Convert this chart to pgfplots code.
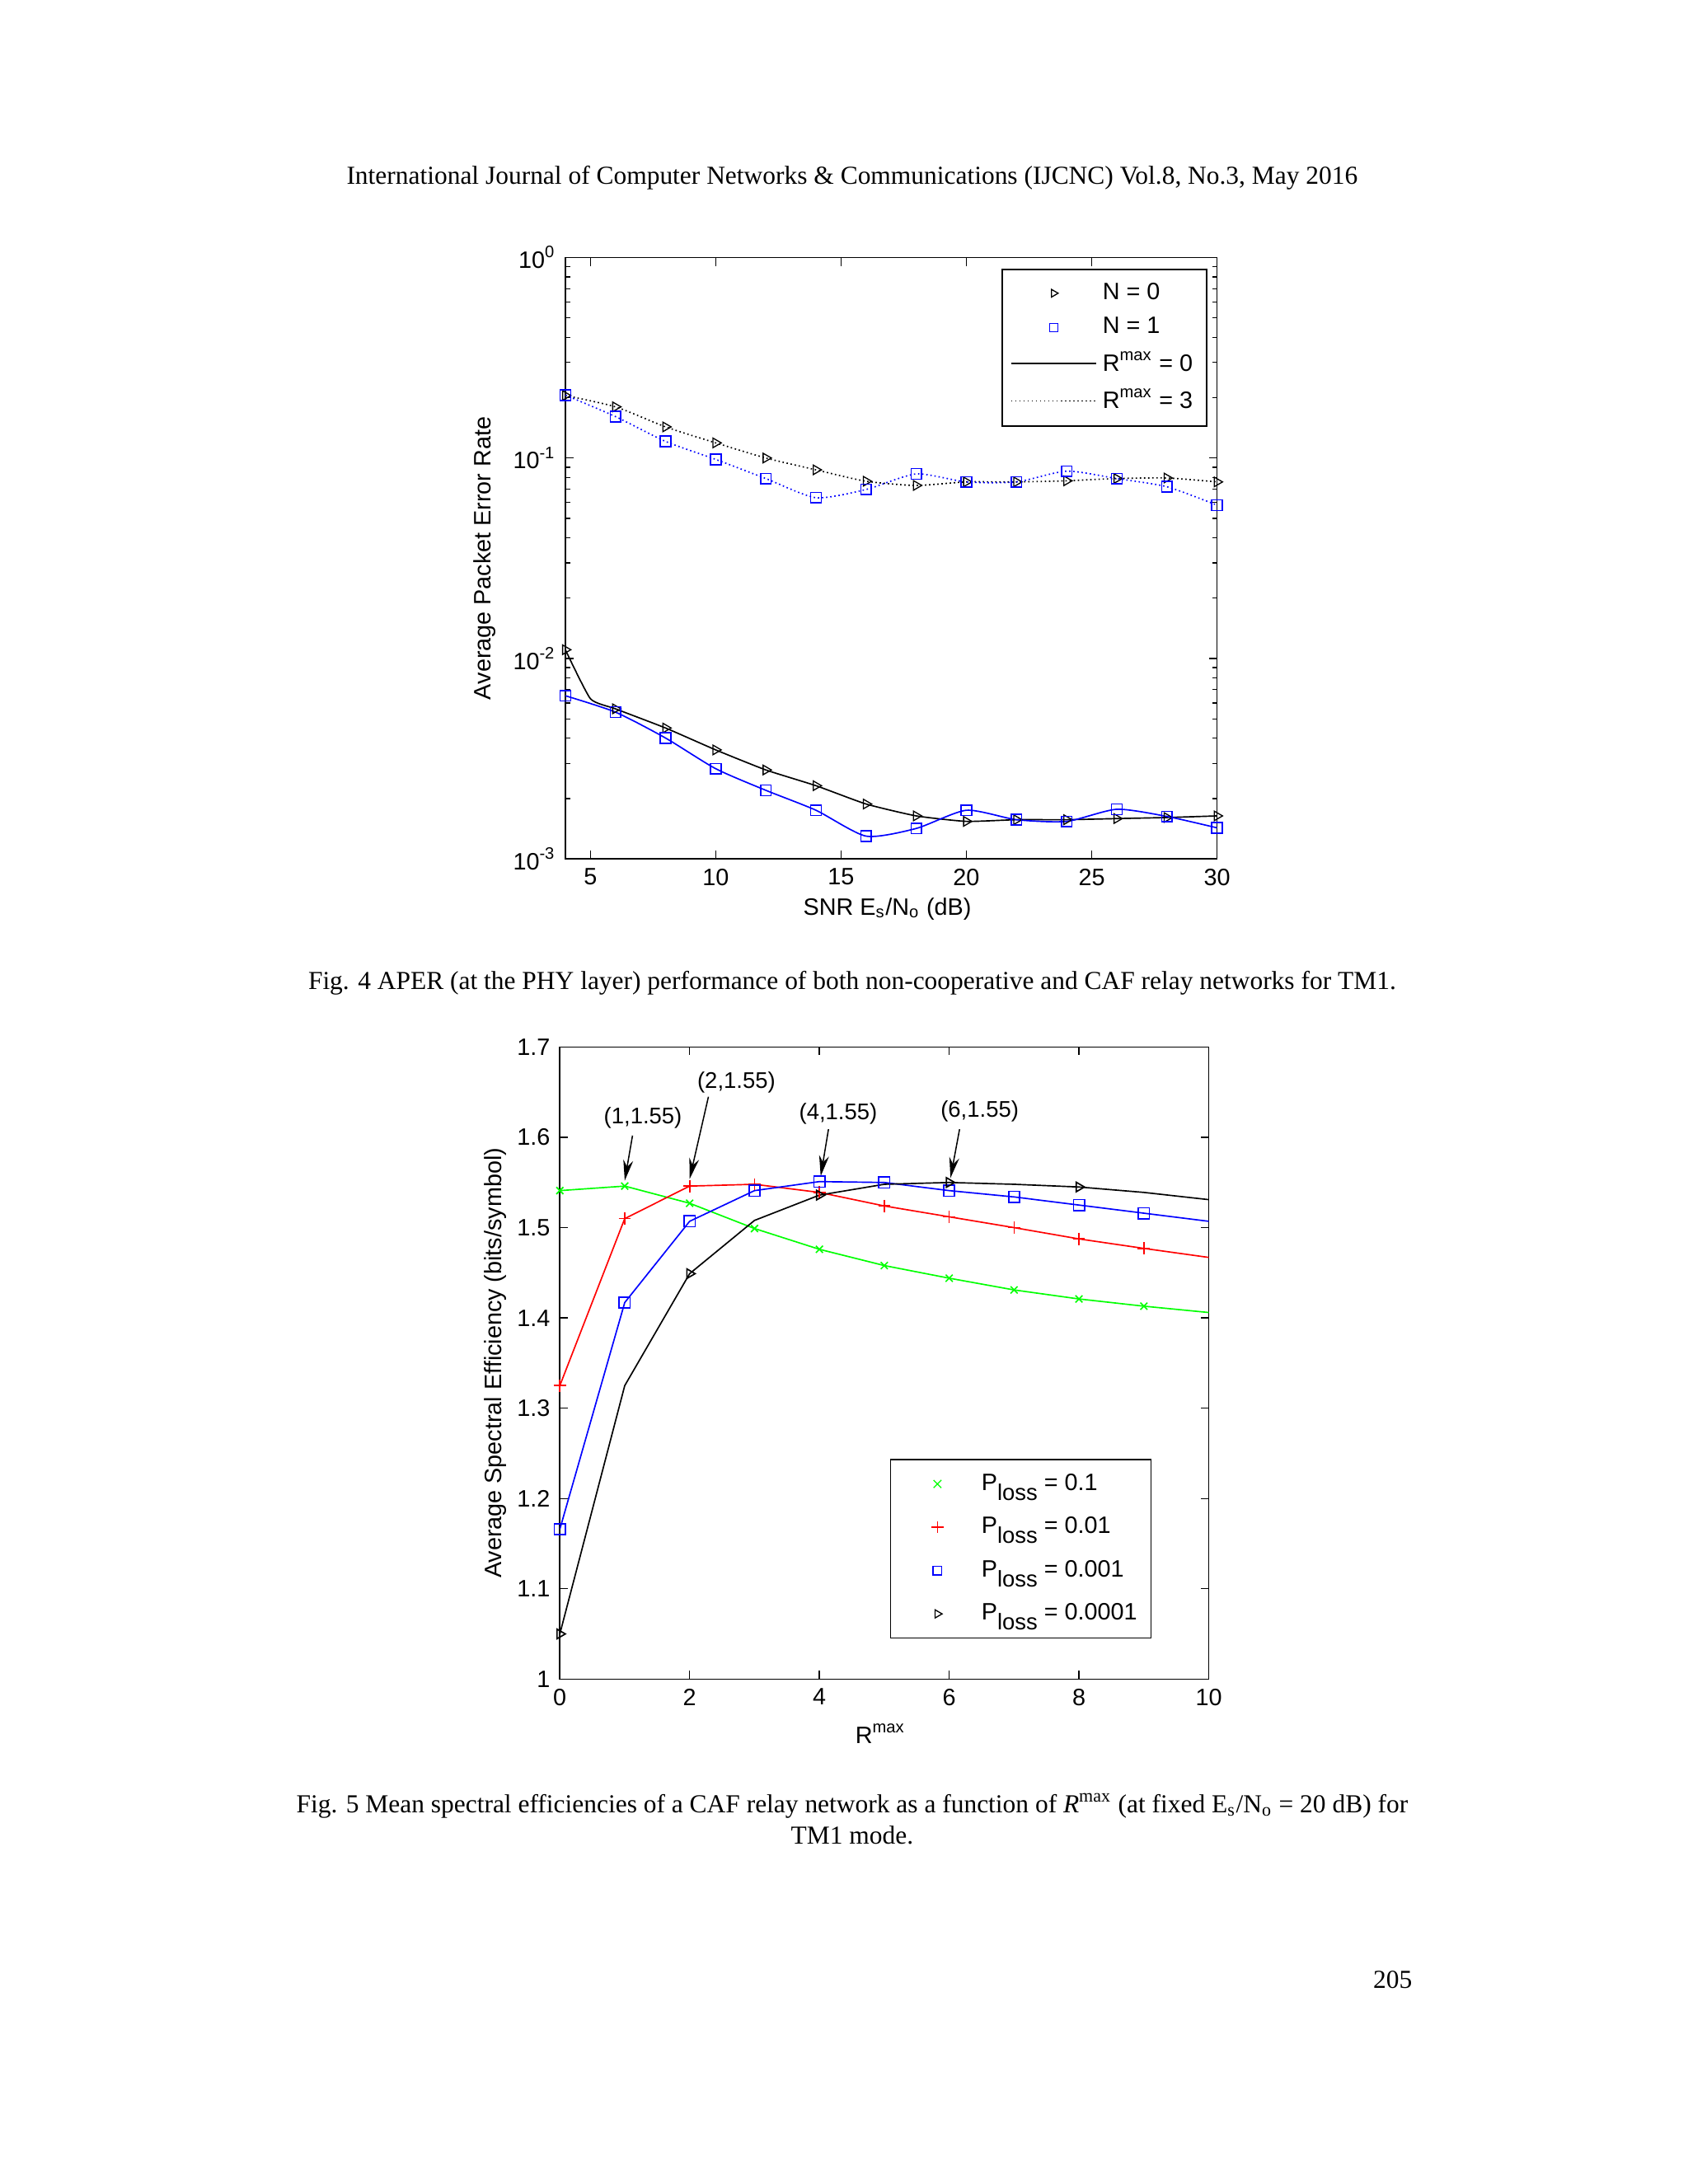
\documentclass[border=0pt]{standalone}
\usepackage{fontspec}
\setmainfont{Liberation Serif}
\newfontfamily\arial{Liberation Sans}
\usepackage{pgfplots}
\pgfplotsset{compat=1.18}
\usetikzlibrary{arrows.meta}

\pgfplotsset{
  matlab/.style={
    scale only axis,
    font=\arial\fontsize{8.6}{10}\selectfont,
    tick align=inside,
    major tick length=3pt,
    minor tick length=1.7pt,
    every tick/.style={black, line width=0.4pt},
    axis line style={line width=0.5pt},
    tick label style={font=\arial\fontsize{8.6}{10}\selectfont},
  },
  mk/.style={legend image code/.code={
      \path[draw=none, fill=none] (0pt,-2pt) rectangle (#1,2pt);
      \draw[##1] plot coordinates {(0.5*#1,0pt)};}},
  ln/.style={legend image code/.code={
      \draw[##1] (0pt,0pt) -- (#1,0pt);}},
}

\begin{document}
\begin{tikzpicture}
\path[use as bounding box, fill=white] (0pt,0pt) rectangle (612pt,792pt);

\node[font=\fontsize{9.4}{11.5}\selectfont] at (309pt,727.4pt)
  {International Journal of Computer Networks \& Communications (IJCNC) Vol.8, No.3, May 2016};

% Fig. 4
\begin{axis}[matlab,
  at={(205pt,480.5pt)}, anchor=south west,
  width=236.3pt, height=218.1pt,
  ymode=log, xmin=4, xmax=30, ymin=1e-3, ymax=1,
  xtick={5,10,15,20,25,30}, xticklabels={5,10,15,20,25,30},
  ytick={1e-3,1e-2,1e-1,1},
  yticklabels={10\textsuperscript{-3},10\textsuperscript{-2},10\textsuperscript{-1},10\textsuperscript{0}},
  minor ytick={2e-3,3e-3,4e-3,5e-3,6e-3,7e-3,8e-3,9e-3,2e-2,3e-2,4e-2,5e-2,6e-2,7e-2,8e-2,9e-2,2e-1,3e-1,4e-1,5e-1,6e-1,7e-1,8e-1,9e-1},
  xlabel={SNR E\textsubscript{s}/N\textsubscript{o} (dB)},
  ylabel={Average Packet Error Rate},
  every axis x label/.style={at={(axis description cs:0.494,-0.083)}, anchor=center},
  every axis y label/.style={at={(axis description cs:-0.124,0.5)}, rotate=90, anchor=center},
  legend style={at={(rel axis cs:0.985,0.981)}, anchor=north east, draw=black,
    line width=0.5pt, font=\arial\fontsize{8.6}{10}\selectfont,
    row sep=1pt, inner xsep=3pt, inner ysep=2.8pt},
  legend cell align=left,
]
\addlegendimage{mk=31pt, only marks, mark=triangle, mark size=1.6pt, mark options={rotate=-90, black, line width=0.4pt}}
\addlegendentry{N = 0}
\addlegendimage{mk=31pt, only marks, mark=square, mark size=1.5pt, mark options={blue, line width=0.4pt}}
\addlegendentry{N = 1}
\addlegendimage{ln=31pt, black, line width=0.5pt}
\addlegendentry{R\textsuperscript{max} = 0}
\addlegendimage{ln=31pt, black, densely dotted, line width=0.5pt}
\addlegendentry{R\textsuperscript{max} = 3}

% R^max = 3, N = 0
\addplot[forget plot, black, densely dotted, line width=0.5pt, smooth, tension=0.4,
  mark=triangle, mark size=2pt, mark options={rotate=-90, solid, line width=0.4pt}]
  coordinates {(4,0.205)(6,0.180)(8,0.143)(10,0.119)(12,0.100)(14,0.0873)(16,0.0766)
  (18,0.073)(20,0.076)(22,0.076)(24,0.077)(26,0.079)(28,0.0795)(30,0.076)};
% R^max = 3, N = 1
\addplot[forget plot, blue, densely dotted, line width=0.5pt, smooth, tension=0.4,
  mark=square, mark size=1.9pt, mark options={solid, line width=0.45pt}]
  coordinates {(4,0.206)(6,0.161)(8,0.121)(10,0.0984)(12,0.079)(14,0.0634)(16,0.0697)
  (18,0.0833)(20,0.076)(22,0.076)(24,0.086)(26,0.079)(28,0.0719)(30,0.0582)};
% R^max = 0, N = 0
\addplot[forget plot, black, line width=0.5pt, smooth, tension=0.3,
  mark=triangle, mark size=2pt, mark options={rotate=-90, line width=0.4pt},
  mark indices={1,3,4,5,6,7,8,9,10,11,12,13,14,15}]
  coordinates {(4,0.01106)(5,0.0063)(6,0.00561)(8,0.0045)(10,0.0035)(12,0.00278)(14,0.00232)
  (16,0.00188)(18,0.00164)(20,0.00154)(22,0.00157)(24,0.00157)(26,0.00159)(28,0.00161)(30,0.00164)};
% R^max = 0, N = 1
\addplot[forget plot, blue, line width=0.5pt, smooth, tension=0.4,
  mark=square, mark size=1.9pt, mark options={line width=0.45pt}]
  coordinates {(4,0.00652)(6,0.0054)(8,0.00401)(10,0.00282)(12,0.0022)(14,0.00175)(16,0.0013)
  (18,0.00142)(20,0.00175)(22,0.00157)(24,0.00154)(26,0.00177)(28,0.00163)(30,0.00143)};
\end{axis}

\node[font=\fontsize{9.4}{11.5}\selectfont] at (309pt,435.5pt)
  {Fig. 4 APER (at the PHY layer) performance of both non-cooperative and CAF relay networks for TM1.};

% Fig. 5
\begin{axis}[matlab,
  at={(203pt,183.1pt)}, anchor=south west,
  width=235.3pt, height=229.2pt,
  xmin=0, xmax=10, ymin=1, ymax=1.7,
  xtick={0,2,4,6,8,10}, xticklabels={0,2,4,6,8,10},
  ytick={1,1.1,1.2,1.3,1.4,1.5,1.6,1.7},
  yticklabels={1,1.1,1.2,1.3,1.4,1.5,1.6,1.7},
  xlabel={R\textsuperscript{max}},
  ylabel={Average Spectral Efficiency (bits/symbol)},
  every axis x label/.style={at={(axis description cs:0.494,-0.086)}, anchor=center},
  every axis y label/.style={at={(axis description cs:-0.099,0.5)}, rotate=90, anchor=center},
  legend style={at={(rel axis cs:0.912,0.348)}, anchor=north east, draw=black,
    line width=0.5pt, font=\arial\fontsize{8.6}{10}\selectfont,
    row sep=4.2pt, inner xsep=3pt, inner ysep=3pt},
  legend cell align=left,
]
\addlegendimage{mk=28pt, only marks, mark=x, mark size=2pt, mark options={green, line width=0.4pt}}
\addlegendentry{P\raisebox{-0.8ex}{\fontsize{8.2}{9}\selectfont loss} = 0.1}
\addlegendimage{mk=28pt, only marks, mark=+, mark size=2.2pt, mark options={red, line width=0.4pt}}
\addlegendentry{P\raisebox{-0.8ex}{\fontsize{8.2}{9}\selectfont loss} = 0.01}
\addlegendimage{mk=28pt, only marks, mark=square, mark size=1.6pt, mark options={blue, line width=0.45pt}}
\addlegendentry{P\raisebox{-0.8ex}{\fontsize{8.2}{9}\selectfont loss} = 0.001}
\addlegendimage{mk=28pt, only marks, mark=triangle, mark size=1.7pt, mark options={rotate=-90, black, line width=0.4pt}}
\addlegendentry{P\raisebox{-0.8ex}{\fontsize{8.2}{9}\selectfont loss} = 0.0001}

\addplot[forget plot, green, line width=0.5pt, mark=x, mark size=1.8pt, mark indices={1,2,3,4,5,6,7,8,9,10}]
  coordinates {(0,1.541)(1,1.546)(2,1.527)(3,1.499)(4,1.476)(5,1.458)(6,1.444)(7,1.431)(8,1.421)(9,1.413)(10,1.406)};
\addplot[forget plot, red, line width=0.5pt, mark=+, mark size=2.2pt, mark indices={1,2,3,4,5,6,7,8,9,10}]
  coordinates {(0,1.325)(1,1.510)(2,1.546)(3,1.548)(4,1.539)(5,1.524)(6,1.512)(7,1.500)(8,1.4875)(9,1.477)(10,1.467)};
\addplot[forget plot, blue, line width=0.5pt, mark=square, mark size=2pt, mark indices={1,2,3,4,5,6,7,8,9,10}]
  coordinates {(0,1.166)(1,1.417)(2,1.507)(3,1.541)(4,1.551)(5,1.550)(6,1.541)(7,1.534)(8,1.525)(9,1.516)(10,1.507)};
\addplot[forget plot, black, line width=0.5pt, mark=triangle, mark size=2pt, mark options={rotate=-90}, mark indices={1,3,5,7,9}]
  coordinates {(0,1.050)(1,1.325)(2,1.449)(3,1.508)(4,1.536)(5,1.548)(6,1.550)(7,1.548)(8,1.545)(9,1.539)(10,1.531)};

\begin{scope}[font=\arial\fontsize{8.2}{10}\selectfont]
\node at (axis cs:1.28,1.622) {(1,1.55)};
\node at (axis cs:2.72,1.661) {(2,1.55)};
\node at (axis cs:4.29,1.626) {(4,1.55)};
\node at (axis cs:6.47,1.629) {(6,1.55)};
\end{scope}
\begin{scope}[-{Stealth[length=7.5pt,width=3.6pt]}, line width=0.45pt]
\draw (axis cs:1.12,1.602) -- (axis cs:1.0,1.552);
\draw (axis cs:2.29,1.645) -- (axis cs:2.0,1.554);
\draw (axis cs:4.14,1.609) -- (axis cs:4.02,1.557);
\draw (axis cs:6.16,1.609) -- (axis cs:6.02,1.555);
\end{scope}
\end{axis}

\node[font=\fontsize{9.4}{11.5}\selectfont] at (309pt,137pt)
  {Fig. 5 Mean spectral efficiencies of a CAF relay network as a function of \textit{R}\textsuperscript{max} (at fixed E\textsubscript{s}/N\textsubscript{o} = 20 dB) for};
\node[font=\fontsize{9.4}{11.5}\selectfont] at (309pt,126.4pt) {TM1 mode.};

\node[font=\fontsize{9.4}{11.5}\selectfont] at (505pt,74pt) {205};
\end{tikzpicture}
\end{document}
